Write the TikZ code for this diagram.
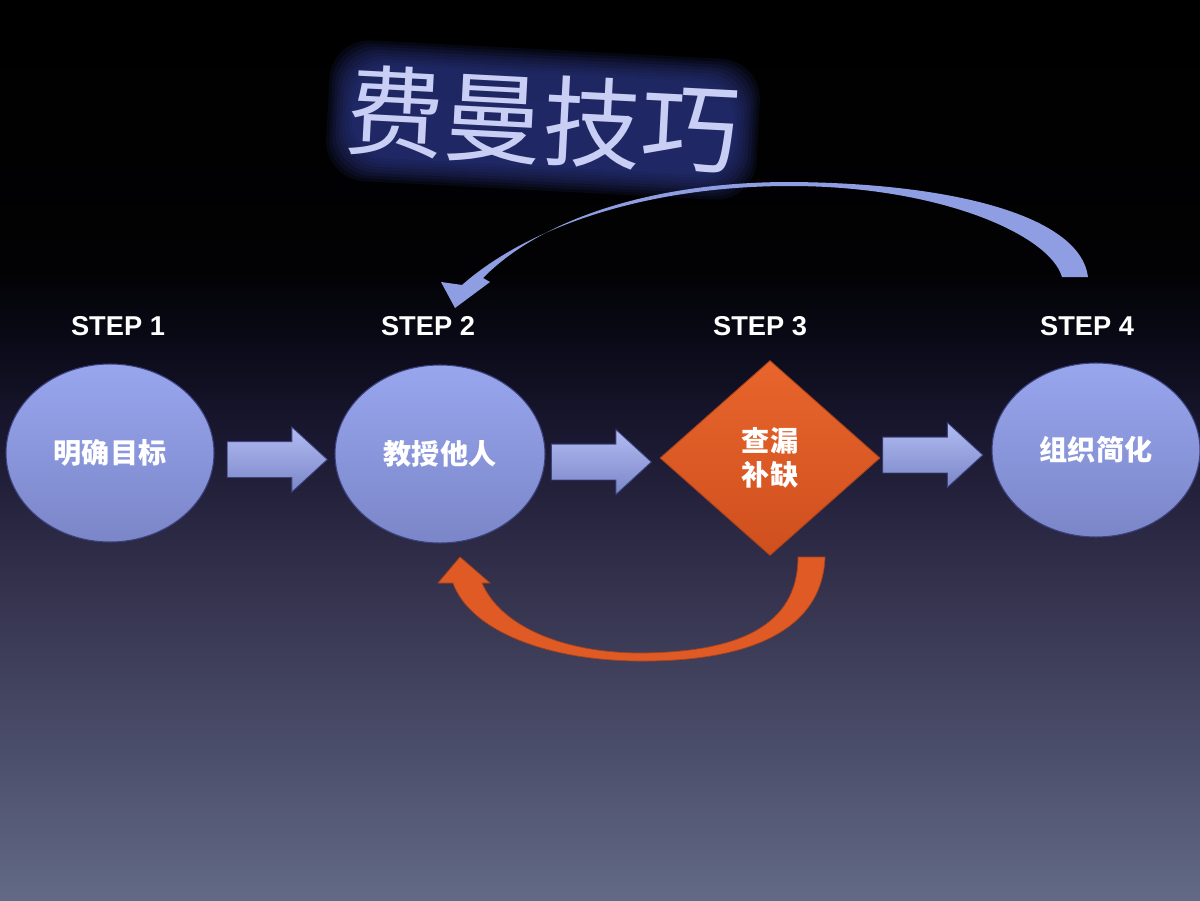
\documentclass[tikz,border=0pt]{standalone}
\usepackage{xcolor}
\usepackage{fontspec}
\setmainfont{Liberation Sans}
\newfontfamily\cjk{Noto Sans CJK SC}
\usetikzlibrary{shapes,arrows,positioning,calc,shapes.arrows,shapes.geometric}

\definecolor{bgbot}{HTML}{626A86}
\definecolor{bgc}{HTML}{4B4E6B}
\definecolor{bgb}{HTML}{36344F}
\definecolor{bga}{HTML}{1C1A33}
\definecolor{bgd}{HTML}{0B0B1A}
\definecolor{bgtop}{HTML}{020204}
\definecolor{glowblue}{HTML}{2E3A8E}
\definecolor{titlelav}{HTML}{C9CEF5}
\definecolor{lavtop}{HTML}{98A6EE}
\definecolor{lavbot}{HTML}{7B86C8}
\definecolor{lavline}{HTML}{3C4280}
\definecolor{loopblue}{HTML}{8F9EE2}
\definecolor{orangetop}{HTML}{E8652C}
\definecolor{orangebot}{HTML}{CF4F1E}
\definecolor{orangeline}{HTML}{A8421A}
\definecolor{looporange}{HTML}{E05A25}

\pgfdeclareverticalshading{slidebg}{100bp}{color(0bp)=(bgbot); color(25bp)=(bgbot);
  color(33.3bp)=(bgc); color(41.7bp)=(bgb); color(50bp)=(bga); color(55.6bp)=(bgd);
  color(60bp)=(bgtop); color(75bp)=(black); color(100bp)=(black)}

\tikzset{
  stepnode/.style={ellipse, minimum width=4.16cm, minimum height=3.56cm, inner sep=0pt,
    top color=lavtop, bottom color=lavbot, draw=lavline, line width=0.6pt,
    text=white, font=\cjk\bfseries\fontsize{16}{19}\selectfont},
  checknode/.style={diamond, minimum width=4.4cm, minimum height=3.9cm, inner sep=0pt,
    top color=orangetop, bottom color=orangebot, draw=orangeline, line width=0.5pt,
    text=white, align=center, font=\cjk\bfseries\fontsize{16}{19.5}\selectfont},
  steplabel/.style={text=white, font=\bfseries\fontsize{15.5}{18}\selectfont},
  bigarrow/.style={single arrow, minimum height=2cm, inner xsep=0pt, inner ysep=0.35cm,
    text height=0pt, text depth=0pt, single arrow head extend=0.29cm, single arrow tip angle=85,
    top color=lavtop!75!white, bottom color=lavbot, draw=lavline, line width=0.5pt},
  titletext/.style={font=\cjk\fontsize{56}{60}\selectfont, rotate=-3, inner sep=0pt},
  glowbox/.style={fill=glowblue, opacity=0.13, rounded corners=0.8cm, rotate around={-3:(tc)}}
}

\begin{document}
\begin{tikzpicture}
    % background
    \useasboundingbox (0,0) rectangle (24,18);
    \fill[shading=slidebg] (0,0) rectangle (24,18);

    % title with glow
    \coordinate (tc) at (10.86,15.6);
    \foreach \m in {-0.12,-0.06,...,0.36}
        \fill[glowbox] ($(tc)+(-3.95-\m,-1.05-\m)$) rectangle ($(tc)+(3.95+\m,1.05+\m)$);
    \node[titletext, text=titlelav] (title) at (tc) {费曼技巧};

    % steps
    \node[steplabel] (s1) at (2.36,11.48) {STEP 1};
    \node[steplabel] (s2) at (8.56,11.48) {STEP 2};
    \node[steplabel] (s3) at (15.2,11.48) {STEP 3};
    \node[steplabel] (s4) at (21.74,11.48) {STEP 4};

    \node[stepnode] (e1) at (2.2,8.94) {明确目标};
    \node[stepnode, minimum width=4.2cm] (e2) at (8.8,8.92) {教授他人};
    \node[checknode] (d3) at (15.4,8.84) {查漏\\补缺};
    \node[stepnode, minimum height=3.48cm] (e4) at (21.92,9.0) {组织简化};

    \node[bigarrow] (a12) at ($(e1.east)!0.5!(e2.west)+(-0.14,-0.12)$) {};
    \node[bigarrow] (a23) at ($(e2.east)!0.5!(d3.west)+(-0.22,-0.12)$) {};
    \node[bigarrow] (a34) at ($(d3.east)!0.5!(e4.west)+(-0.26,-0.02)$) {};

    % loop back from step 4 to step 2
    \fill[loopblue] (21.76,12.46) .. controls (21.6,13.7) and (19.0,14.34) .. (15.8,14.36)
        .. controls (13.0,14.36) and (10.8,13.6) .. (9.66,12.44)
        -- (9.8,12.36) -- (9.1,11.84) -- (8.82,12.36) -- (9.24,12.3)
        .. controls (10.6,13.5) and (13.0,14.28) .. (15.8,14.28)
        .. controls (18.8,14.28) and (21.0,13.3) .. (21.24,12.46) -- cycle;

    % loop back from step 3 to step 2
    \fill[looporange, draw=orangeline, line width=0.4pt] (16.5,6.86) .. controls (16.44,5.2) and (14.6,4.76) .. (12.74,4.78)
        .. controls (10.9,4.8) and (9.4,5.4) .. (9.06,6.34)
        -- (8.76,6.34) -- (9.2,6.86) -- (9.8,6.34) -- (9.64,6.34)
        .. controls (10.0,5.5) and (11.2,4.96) .. (12.74,4.94)
        .. controls (14.8,4.94) and (15.96,5.5) .. (15.96,6.86) -- cycle;
\end{tikzpicture}
\end{document}
